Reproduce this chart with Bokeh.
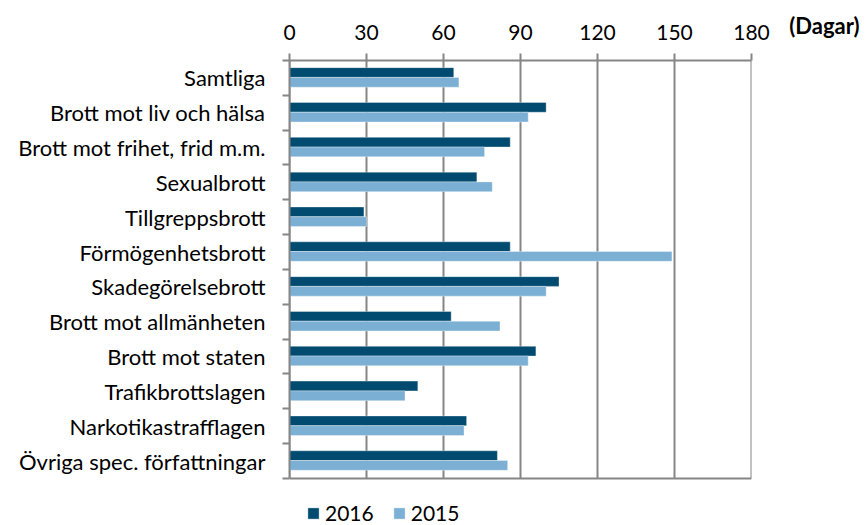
from bokeh.plotting import figure
from bokeh.models import Range1d, FixedTicker, Legend, LegendItem, LinearAxis
from bokeh.embed import file_html
from bokeh.resources import INLINE

categories = [
    "Samtliga",
    "Brott mot liv och hälsa",
    "Brott mot frihet, frid m.m.",
    "Sexualbrott",
    "Tillgreppsbrott",
    "Förmögenhetsbrott",
    "Skadegörelsebrott",
    "Brott mot allmänheten",
    "Brott mot staten",
    "Trafikbrottslagen",
    "Narkotikastrafflagen",
    "Övriga spec. författningar",
]
values_2016 = [64, 100, 86, 73, 29, 86, 105, 63, 96, 50, 69, 81]
values_2015 = [66, 93, 76, 79, 30, 149, 100, 82, 93, 45, 68, 85]
x_ticks = [0, 30, 60, 90, 120, 150, 180]
series_names = ["2016", "2015"]
unit_label = "(Dagar)"

DARK = "#014B70"
LIGHT = "#7BAFD4"
GRAY = "#868686"
FONT = "Lato"
FS_CAT = "22px"
FS = "21px"

n = len(categories)
x_max = x_ticks[-1]
centers = [i + 0.5 for i in range(n)]
y16 = [i + 0.345 for i in range(n)]
y15 = [i + 0.625 for i in range(n)]
legend_room = 1.35  # extra band space below the plot box for the legend

p = figure(width=866, height=525, output_backend="svg", toolbar_location=None,
           x_range=Range1d(0, x_max), y_range=Range1d(n + legend_room, 0),
           x_axis_location="above",
           min_border_left=289, min_border_top=60,
           min_border_right=115, min_border_bottom=0)
p.background_fill_color = "white"
p.border_fill_color = "white"
p.outline_line_color = None
p.xgrid.visible = False
p.ygrid.visible = False

# vertical gridlines and bottom edge of the plot box
p.segment(x0=x_ticks, y0=[0] * len(x_ticks), x1=x_ticks, y1=[n] * len(x_ticks),
          line_color=GRAY, line_width=2)
p.segment(x0=[0], y0=[n], x1=[x_max], y1=[n], line_color=GRAY, line_width=2)

r16 = p.hbar(y=y16, left=0, right=values_2016, height=0.28,
             fill_color=DARK, line_color="white", line_alpha=0.35, line_width=1)
r15 = p.hbar(y=y15, left=0, right=values_2015, height=0.28,
             fill_color=LIGHT, line_color="white", line_alpha=0.35, line_width=1)

# top axis
xa = p.xaxis[0]
xa.ticker = FixedTicker(ticks=x_ticks)
xa.axis_line_color = GRAY
xa.axis_line_width = 2
xa.major_tick_line_color = GRAY
xa.major_tick_line_width = 2
xa.major_tick_out = 7
xa.major_tick_in = 0
xa.minor_tick_line_color = None
xa.major_label_text_font = FONT
xa.major_label_text_font_size = FS
xa.major_label_text_color = "black"
xa.major_label_standoff = 14

# left axis
ya = p.yaxis[0]
ya.bounds = (0, n)
ya.ticker = FixedTicker(ticks=centers, minor_ticks=list(range(n + 1)))
ya.major_label_overrides = {c: lab for c, lab in zip(centers, categories)}
ya.axis_line_color = GRAY
ya.axis_line_width = 2
ya.major_tick_out = 0
ya.major_tick_in = 0
ya.major_tick_line_color = None
ya.minor_tick_out = 7
ya.minor_tick_in = 0
ya.minor_tick_line_color = GRAY
ya.minor_tick_line_width = 2
ya.major_label_text_font = FONT
ya.major_label_text_font_size = FS_CAT
ya.major_label_text_color = "black"
ya.major_label_standoff = 17

# unit label as the plot title, pulled down next to the tick labels
try:
    p.title.standoff = -34
    p.title.text = unit_label
    p.title.align = "right"
    p.title.offset = -108
    p.title.text_font = FONT
    p.title.text_font_size = "22px"
    p.title.text_font_style = "bold"
    p.title.text_color = "black"
except Exception:
    p.title.standoff = 10
    ra = LinearAxis(ticker=FixedTicker(ticks=[0]),
                    major_label_overrides={0: unit_label},
                    axis_line_color=None, major_tick_line_color=None,
                    minor_tick_line_color=None, major_tick_out=0, major_tick_in=0,
                    major_label_standoff=39,
                    major_label_text_font=FONT, major_label_text_font_size=FS,
                    major_label_text_font_style="bold",
                    major_label_text_baseline="bottom",
                    major_label_text_color="black")
    p.add_layout(ra, "right")

legend = Legend(items=[LegendItem(label=series_names[0], renderers=[r16]),
                       LegendItem(label=series_names[1], renderers=[r15])],
                orientation="horizontal", location=(17, 0),
                glyph_width=14, glyph_height=14, label_standoff=5, spacing=18,
                label_height=24, padding=0, margin=0, border_line_color=None,
                background_fill_alpha=0, label_text_font=FONT,
                label_text_font_size=FS, label_text_color="black")
p.add_layout(legend)

open("out.html", "w").write(file_html(p, INLINE))
